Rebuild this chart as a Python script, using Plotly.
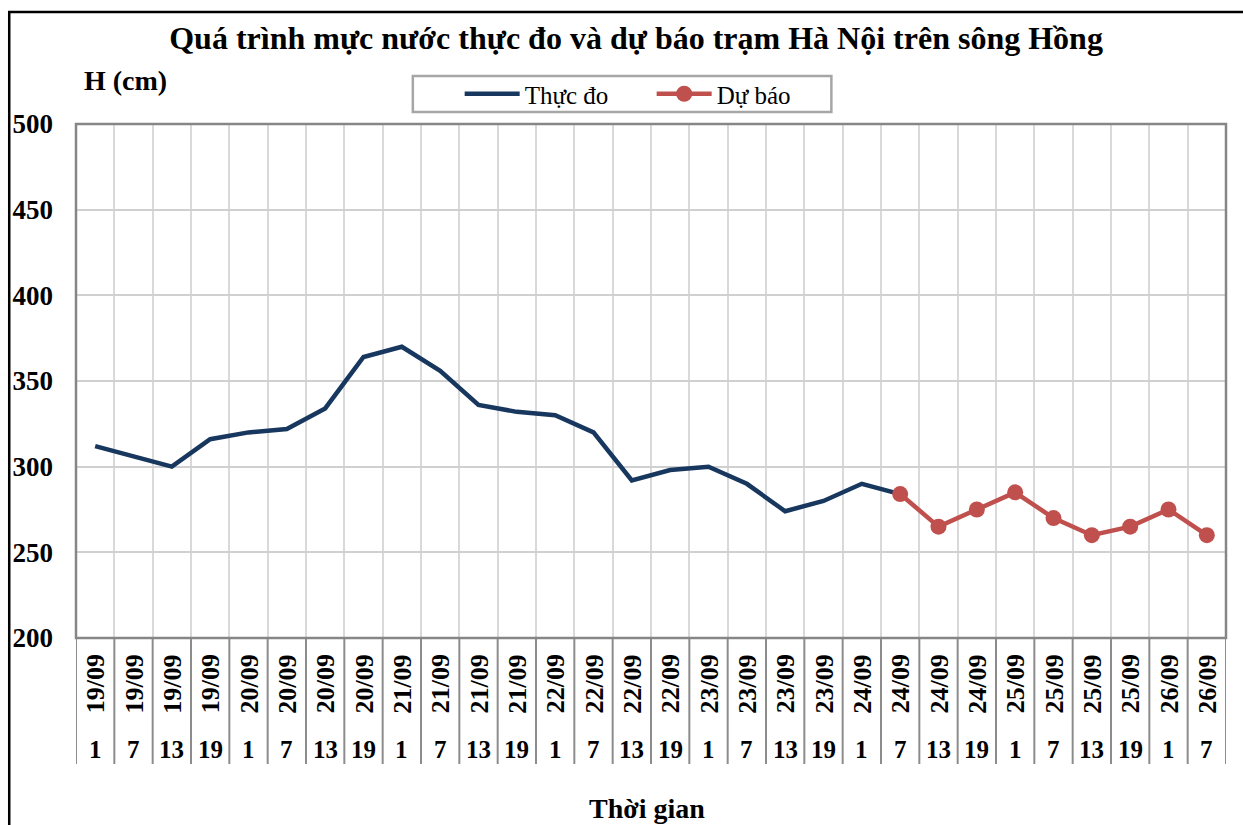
import plotly.graph_objects as go

# ---- data ----
dates = ["19/09", "19/09", "19/09", "19/09", "20/09", "20/09", "20/09", "20/09",
         "21/09", "21/09", "21/09", "21/09", "22/09", "22/09", "22/09", "22/09",
         "23/09", "23/09", "23/09", "23/09", "24/09", "24/09", "24/09", "24/09",
         "25/09", "25/09", "25/09", "25/09", "26/09", "26/09"]
hours = ["1", "7", "13", "19", "1", "7", "13", "19", "1", "7", "13", "19",
         "1", "7", "13", "19", "1", "7", "13", "19", "1", "7", "13", "19",
         "1", "7", "13", "19", "1", "7"]
observed = [312, 306, 300, 316, 320, 322, 334, 364, 370, 356, 336, 332,
            330, 320, 292, 298, 300, 290, 274, 280, 290, 284,
            None, None, None, None, None, None, None, None]
forecast = [None] * 21 + [284, 265, 275, 285, 270, 260, 265, 275, 260]
y_ticks = [200, 250, 300, 350, 400, 450, 500]

# ---- layout geometry (pixels) ----
W, H = 1243, 825
ML, MR, MT, MB = 72, 17, 124, 187
PW, PH = W - ML - MR, H - MT - MB

def px_x(x):
    return (x - ML) / PW

def px_y(y):
    return 1 - (y - MT) / PH

FONT = "Liberation Serif, Times New Roman, serif"
n = len(dates)
xs = list(range(n))

fig = go.Figure()
fig.add_trace(go.Scatter(
    x=xs, y=observed, mode="lines", name="Thực đo",
    line=dict(color="#17375E", width=4.5), connectgaps=False))
fig.add_trace(go.Scatter(
    x=xs, y=forecast, mode="lines+markers", name="Dự báo",
    line=dict(color="#C0504D", width=4.5),
    marker=dict(color="#C0504D", size=16)))

shapes = []
# category separators below axis
for k in range(n + 1):
    shapes.append(dict(type="line", xref="x", yref="paper",
                       x0=k - 0.5, x1=k - 0.5, y0=0, y1=px_y(764),
                       line=dict(color="#8c8c8c", width=2)))
# plot area border
shapes.append(dict(type="rect", xref="paper", yref="paper", x0=0, x1=1, y0=0, y1=1,
                   line=dict(color="#868686", width=2.5)))
# outer frame
shapes.append(dict(type="rect", xref="paper", yref="paper",
                   x0=px_x(5), x1=px_x(1260), y0=px_y(12), y1=px_y(840),
                   line=dict(color="black", width=2.5), layer="below"))
# legend frame
shapes.append(dict(type="rect", xref="paper", yref="paper",
                   x0=px_x(410), x1=px_x(830), y0=px_y(76), y1=px_y(112),
                   line=dict(color="#a6a6a6", width=2.5), layer="below"))

annotations = []
for i in range(n):
    annotations.append(dict(x=i, y=px_y(684), xref="x", yref="paper",
                            text="<b>%s</b>" % dates[i], textangle=-90, showarrow=False,
                            font=dict(family=FONT, size=26, color="black"),
                            xanchor="center", yanchor="middle"))
    annotations.append(dict(x=i, y=px_y(749), xref="x", yref="paper",
                            text="<b>%s</b>" % hours[i], showarrow=False,
                            font=dict(family=FONT, size=25, color="black"),
                            xanchor="center", yanchor="middle"))
annotations.append(dict(x=px_x(122), y=px_y(80), xref="paper", yref="paper",
                        text="<b>H (cm)</b>", showarrow=False,
                        font=dict(family=FONT, size=28, color="black"),
                        xanchor="center", yanchor="middle"))
annotations.append(dict(x=px_x(645), y=px_y(808), xref="paper", yref="paper",
                        text="<b>Thời gian</b>", showarrow=False,
                        font=dict(family=FONT, size=28, color="black"),
                        xanchor="center", yanchor="middle"))

fig.update_layout(
    width=W, height=H,
    margin=dict(l=ML, r=MR, t=MT, b=MB, pad=0),
    paper_bgcolor="white", plot_bgcolor="white",
    font=dict(family=FONT, color="black"),
    title=dict(text="<b>Quá trình mực nước thực đo và dự báo trạm Hà Nội trên sông Hồng</b>",
               x=px_x(634), xref="paper", xanchor="center",
               y=1 - 38 / H, yanchor="middle",
               font=dict(family=FONT, size=32, color="black")),
    showlegend=True,
    legend=dict(orientation="h", x=px_x(457), xanchor="left",
                y=px_y(94), yanchor="middle",
                bgcolor="rgba(0,0,0,0)", borderwidth=0,
                font=dict(family=FONT, size=25, color="black"),
                entrywidth=122, entrywidthmode="pixels",
                itemwidth=55),
    xaxis=dict(range=[-0.5, n - 0.5], showticklabels=False,
               tick0=-0.5, dtick=1, tickmode="linear",
               showgrid=True, gridcolor="#d9d9d9", gridwidth=2,
               zeroline=False, showline=False, ticks=""),
    yaxis=dict(range=[200, 500], tickvals=y_ticks,
               ticktext=["<b>%d</b>" % v for v in y_ticks],
               showgrid=True, gridcolor="#d0d0d0", gridwidth=2,
               zeroline=False, showline=False, ticks="",
               ticklabelstandoff=22,
               tickfont=dict(family=FONT, size=27, color="black")),
    shapes=shapes,
    annotations=annotations,
)

fig.write_html("out.html", config={"displayModeBar": False},
               post_script="document.body.style.margin='0';")
